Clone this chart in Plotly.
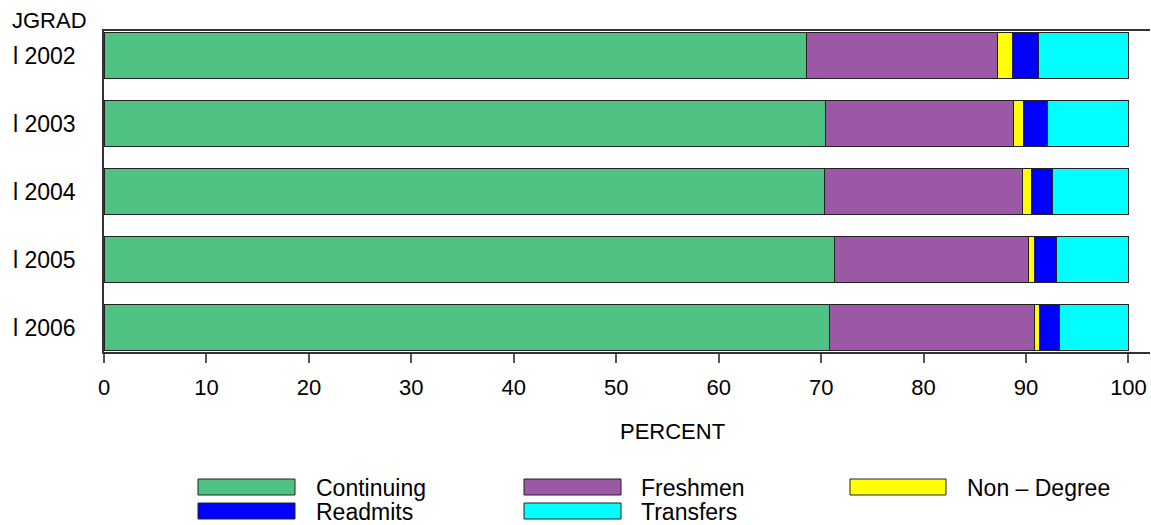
import plotly.graph_objects as go

categories = ["l 2002", "l 2003", "l 2004", "l 2005", "l 2006"]
series_names = ["Continuing", "Freshmen", "Non – Degree", "Readmits", "Transfers"]
continuing = [68.6, 70.4, 70.3, 71.3, 70.8]
freshmen = [18.6, 18.4, 19.4, 18.9, 20.0]
non_degree = [1.5, 1.0, 0.8, 0.6, 0.5]
readmits = [2.5, 2.3, 2.1, 2.2, 2.0]
transfers = [8.8, 7.9, 7.4, 7.0, 6.7]
x_ticks = [0, 10, 20, 30, 40, 50, 60, 70, 80, 90, 100]

colors = ["#4FC183", "#9B59A5", "#FFFF00", "#0000FF", "#00FFFF"]
values = [continuing, freshmen, non_degree, readmits, transfers]

W, H = 1151, 525
# plot area in pixel coordinates
PX0, PX1, PY0, PY1 = 104, 1150, 31, 352
L, R, T, B = PX0, W - PX1, PY0, H - PY1
PW, PH = PX1 - PX0, PY1 - PY0
FONT = "Liberation Sans, Arial, sans-serif"

def px2x(px):
    return (px - PX0) / PW

def py2y(py):
    return (PY1 - py) / PH

fig = go.Figure()
for name, vals, col in zip(series_names, values, colors):
    fig.add_trace(go.Bar(
        y=categories, x=vals, orientation="h", name=name,
        marker=dict(color=col, line=dict(color="#222222", width=1)),
        width=0.69, showlegend=False,
    ))

shapes = []
annotations = []
# custom legend
leg_cols = [(198, 295, 314), (524, 621, 639), (850, 946, 965)]
leg_rows = [(479, 495), (503, 519)]
for i, (name, col) in enumerate(zip(series_names, colors)):
    r, c = divmod(i, 3)
    x0, x1, tx = leg_cols[c]
    y0, y1 = leg_rows[r]
    shapes.append(dict(type="rect", xref="paper", yref="paper",
                       x0=px2x(x0), x1=px2x(x1), y0=py2y(y1), y1=py2y(y0),
                       fillcolor=col, line=dict(color="#222222", width=1)))
    annotations.append(dict(text=name, xref="paper", yref="paper",
                            x=px2x(tx), y=py2y((y0 + y1) / 2 + 1),
                            xanchor="left", yanchor="middle", showarrow=False,
                            font=dict(family=FONT, size=23, color="black")))

annotations.append(dict(text="JGRAD", xref="paper", yref="paper",
                        x=px2x(10), y=py2y(20), xanchor="left", yanchor="middle",
                        showarrow=False, font=dict(family=FONT, size=22, color="black")))
annotations.append(dict(text="PERCENT", xref="paper", yref="paper",
                        x=px2x(672), y=py2y(431), xanchor="center", yanchor="middle",
                        showarrow=False, font=dict(family=FONT, size=22, color="black")))

fig.update_layout(
    width=W, height=H,
    margin=dict(l=L, r=R, t=T, b=B, pad=0),
    barmode="stack",
    plot_bgcolor="white", paper_bgcolor="white",
    font=dict(family=FONT, size=22, color="black"),
    shapes=shapes, annotations=annotations,
    xaxis=dict(range=[0, 102.1], tickvals=x_ticks, showgrid=False, zeroline=False,
               showline=True, linecolor="#333333", linewidth=1.5, mirror=True,
               ticks="outside", ticklen=9, tickwidth=1.5, tickcolor="#555555",
               ticklabelstandoff=6,
               tickfont=dict(family=FONT, size=22, color="black")),
    yaxis=dict(range=[4.36, -0.36], showgrid=False, zeroline=False,
               showline=True, linecolor="#333333", linewidth=1.5, mirror=False,
               ticks="", ticklabelstandoff=22,
               tickfont=dict(family=FONT, size=23, color="black")),
)

fig.write_html(
    "out.html",
    config={"displayModeBar": False},
    post_script="document.body.style.margin='0';document.body.style.overflow='hidden';",
)
